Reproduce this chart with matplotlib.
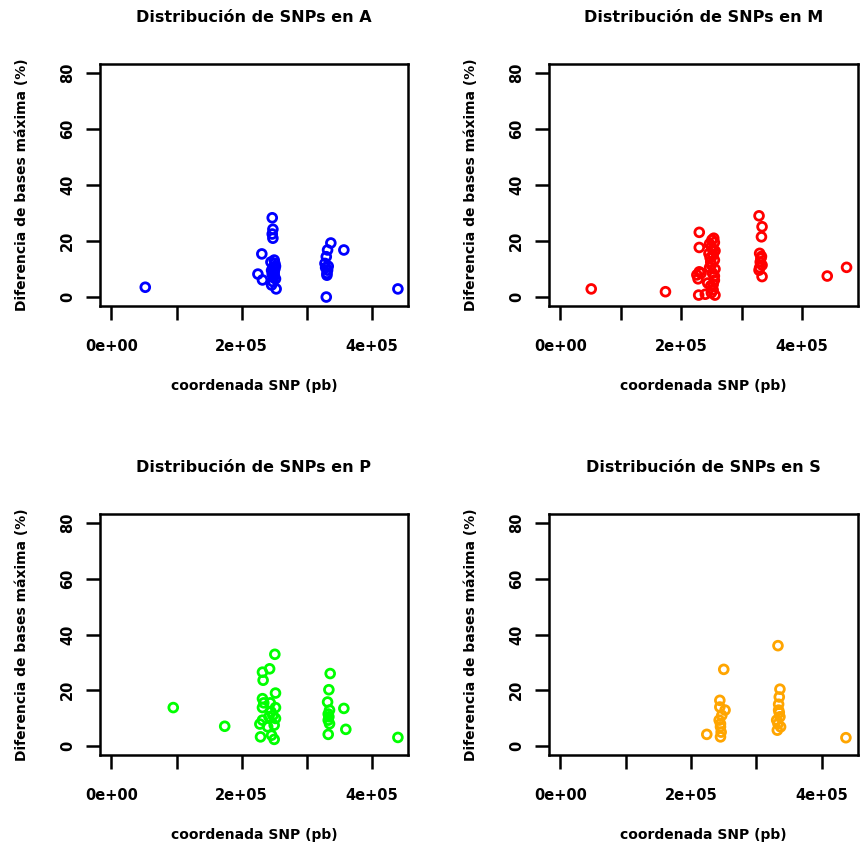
import matplotlib
matplotlib.use("Agg")
import matplotlib.pyplot as plt
import numpy as np

# SNP coordinates (pb) and max base difference (%) per sample
a_x = [0.52e5, 2.47e5, 2.48e5, 2.47e5, 2.48e5, 2.31e5, 2.50e5, 2.51e5, 2.25e5, 2.32e5,
       2.48e5, 2.50e5, 2.52e5, 2.47e5, 2.49e5, 2.51e5, 2.46e5, 2.53e5, 2.45e5, 2.52e5,
       2.48e5, 2.50e5, 2.46e5,
       3.37e5, 3.32e5, 3.57e5, 3.30e5, 3.28e5, 3.32e5, 3.31e5, 3.29e5, 3.30e5, 3.33e5,
       3.31e5, 4.40e5]
a_y = [3.5, 28.3, 24.2, 22.5, 21.0, 15.4, 13.2, 12.0, 8.2, 6.1,
       10.5, 9.0, 11.0, 8.0, 7.0, 10.0, 4.3, 2.9, 12.5, 6.5,
       5.5, 8.0, 9.5,
       19.3, 16.8, 16.8, 14.4, 12.0, 9.6, 7.8, 10.5, 0.0, 11.0,
       8.5, 2.9]

m_x = [0.51e5, 1.74e5, 2.30e5, 2.30e5, 2.51e5, 2.55e5, 2.50e5, 2.56e5, 2.53e5, 2.48e5,
       2.55e5, 2.50e5, 2.56e5, 2.26e5, 2.30e5, 2.28e5, 2.52e5, 2.55e5, 2.29e5, 2.56e5,
       2.49e5, 2.53e5, 2.44e5, 2.47e5, 2.52e5, 2.49e5, 2.55e5, 2.47e5, 2.53e5, 2.50e5,
       2.46e5, 2.54e5, 2.33e5, 2.40e5,
       3.29e5, 3.34e5, 3.33e5, 3.30e5, 3.32e5, 3.34e5, 3.29e5, 3.34e5, 3.31e5, 3.33e5,
       3.30e5, 4.42e5, 4.74e5]
m_y = [2.9, 1.9, 23.1, 17.7, 20.4, 19.5, 18.0, 16.5, 15.0, 14.0,
       13.2, 11.5, 10.0, 7.9, 9.0, 6.5, 8.5, 6.0, 0.7, 0.7,
       4.0, 2.5, 5.0, 19.0, 17.0, 12.5, 7.5, 10.5, 4.5, 1.5,
       15.5, 21.0, 8.5, 1.0,
       29.0, 25.1, 21.5, 15.6, 13.8, 11.4, 9.6, 7.3, 12.5, 14.5,
       10.5, 7.5, 10.6]

p_x = [0.95e5, 1.74e5, 2.51e5, 2.43e5, 2.32e5, 2.33e5, 2.52e5, 2.32e5, 2.52e5, 2.32e5,
       2.45e5, 2.32e5, 2.52e5, 2.28e5, 2.40e5, 2.29e5, 2.46e5, 2.50e5, 2.44e5, 2.48e5,
       2.34e5, 2.50e5, 2.42e5,
       3.36e5, 3.34e5, 3.32e5, 3.35e5, 3.34e5, 3.33e5, 3.33e5, 3.35e5, 3.33e5, 3.57e5,
       3.60e5, 4.40e5]
p_y = [13.8, 7.1, 32.9, 27.7, 26.5, 23.6, 19.0, 17.0, 13.8, 13.8,
       12.3, 9.3, 9.9, 7.9, 6.9, 3.3, 3.9, 2.4, 15.5, 11.0,
       15.5, 7.5, 10.5,
       26.0, 20.2, 15.8, 12.9, 10.5, 9.3, 4.2, 8.0, 11.5, 13.5,
       6.0, 3.1]

s_x = [3.33e5, 2.50e5, 3.36e5, 2.44e5, 3.35e5, 2.52e5, 2.43e5, 2.45e5, 2.24e5, 2.45e5,
       2.47e5, 2.44e5, 2.46e5, 2.45e5, 3.34e5, 3.36e5, 3.31e5, 3.32e5, 3.37e5, 3.34e5,
       3.33e5, 3.35e5, 4.37e5]
s_y = [36.0, 27.5, 20.4, 16.4, 17.6, 12.9, 9.3, 6.9, 4.2, 3.3,
       11.0, 14.0, 5.0, 8.0, 12.9, 10.5, 9.3, 5.7, 6.9, 15.0,
       8.0, 12.0, 3.0]

panels = [
    ("A", a_x, a_y, "#0000FF", 4.38e5),
    ("M", m_x, m_y, "#FF0000", 4.74e5),
    ("P", p_x, p_y, "#00FF00", 4.38e5),
    ("S", s_x, s_y, "#FFA500", 4.38e5),
]

# plot boxes in pixels (left, top, right, bottom)
W, H = 865, 848
boxes = [
    (100, 64, 408, 306),
    (549, 64, 858, 306),
    (100, 514, 408, 755),
    (549, 514, 858, 755),
]

plt.rcParams['font.family'] = ['DejaVu Sans']
plt.rcParams['font.weight'] = 'bold'

fig = plt.figure(figsize=(W / 100, H / 100), dpi=100)

for (name, xs, ys, col, xmax), (l, t, r, b) in zip(panels, boxes):
    ax = fig.add_axes([l / W, 1 - b / H, (r - l) / W, (b - t) / H])
    ax.scatter(xs, ys, s=40, facecolors='none', edgecolors=col, linewidths=2)
    ax.set_xlim(-0.04 * xmax, xmax * 1.04)
    ax.set_ylim(-3.2, 83.2)
    ax.set_xticks([0, 1e5, 2e5, 3e5, 4e5])
    ax.set_xticklabels(["0e+00", "", "2e+05", "", "4e+05"])
    ax.set_yticks([0, 20, 40, 60, 80])
    ax.set_yticklabels(["0", "20", "40", "60", "80"], rotation=90, va='center')
    ax.tick_params(direction='out', length=10, width=1.8, labelsize=10.5)
    ax.tick_params(axis='x', pad=14)
    ax.tick_params(axis='y', pad=8)
    for sp in ax.spines.values():
        sp.set_linewidth(1.8)
    ax.set_title("Distribución de SNPs en " + name, fontsize=11.5, fontweight='bold', pad=30)
    ax.set_xlabel("coordenada SNP (pb)", fontsize=10, fontweight='bold', labelpad=18)
    ax.set_ylabel("Diferencia de bases máxima (%)", fontsize=10, fontweight='bold', labelpad=22)

fig.savefig("out.png", dpi=100)
